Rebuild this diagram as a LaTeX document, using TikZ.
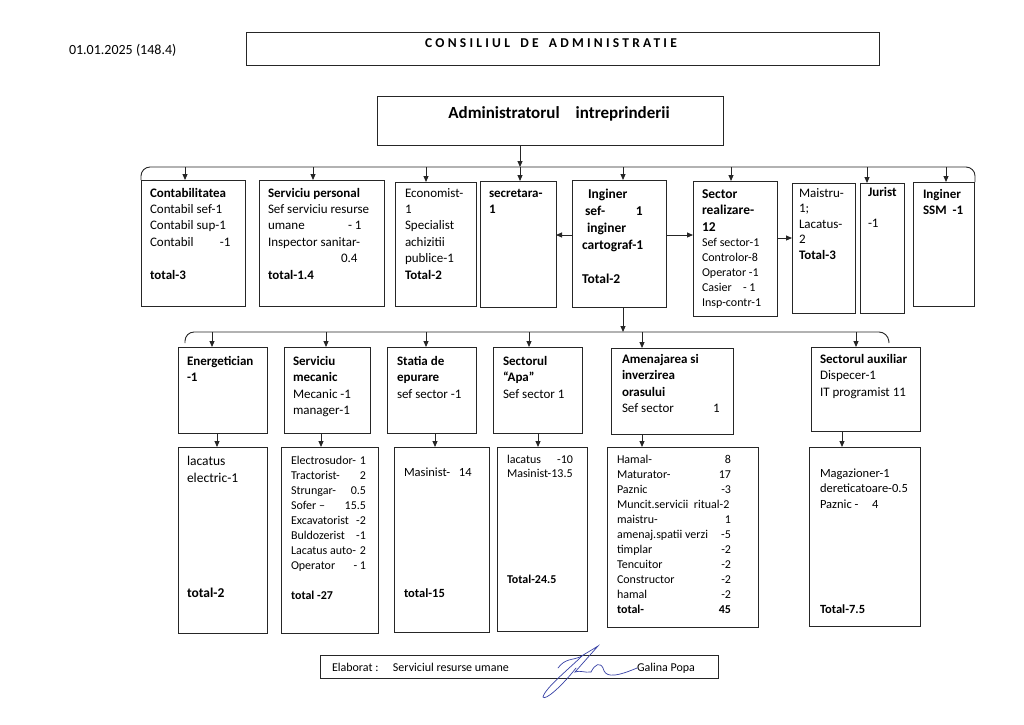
\documentclass[tikz,border=0pt]{standalone}
\usepackage{fontspec}
\setmainfont{Carlito}
\usetikzlibrary{arrows.meta}
\definecolor{sigblue}{RGB}{55,65,165}
\newcommand\fs[2]{\fontsize{#1}{#2}\selectfont}
\newcommand\rw[3]{\makebox[#1]{#2\hfill#3}}
\newcommand\bx[5]{\node[box, minimum width=\fpeval{#4-#2}pt, minimum height=\fpeval{#5-#3}pt] (#1) at (#2,#3) {};}
\newcommand\tb[3]{\node[txt] (#1) at (#2) {\parbox[t]{200pt}{\raggedright #3}};}
\tikzset{
  box/.style={draw=black!85, line width=0.9pt, anchor=north west, inner sep=0pt, outer sep=0pt},
  ln/.style={draw=black!85, line width=0.9pt},
  arr/.style={ln, -{Triangle[length=6pt,width=5pt]}},
  txt/.style={anchor=base west, inner sep=0pt, outer sep=0pt},
  sig/.style={draw=sigblue, line width=0.7pt, line cap=round}
}
\begin{document}
\begin{tikzpicture}[x=1pt,y=-1pt]
\useasboundingbox (0,0) rectangle (1024,724);
\fill[white] (0,0) rectangle (1024,724);

% header
\node[txt] (date) at (69,54) {\fs{14}{16}01.01.2025 (148.4)};
\bx{cons}{246}{32}{879}{65}
\node[anchor=base, inner sep=0pt] (constx) at (551,47) {\fs{13.5}{16}\bfseries\addfontfeatures{LetterSpace=24}CONSILIUL\hspace{4pt} DE\hspace{4pt} ADMINISTRATIE};
\bx{admin}{377}{96}{723}{145}
\node[anchor=base, inner sep=0pt] (admtx) at (559,118) {\fs{17}{20}\bfseries Administratorul\hspace{16pt}intreprinderii};

% row 1 boxes
\bx{contab}{141}{180}{245}{306}
\bx{pers}{259}{180}{384}{306}
\bx{econ}{395}{182}{476}{306}
\bx{secr}{480}{181}{556}{307}
\bx{ing}{572}{180}{666}{307}
\bx{sect}{693}{181}{777}{316}
\bx{maist}{792}{183}{855}{313}
\bx{jur}{860}{183}{904}{313}
\bx{ssm}{913}{182}{974}{306}

% row 2 boxes
\bx{energ}{178}{347}{267}{433}
\bx{mec}{284}{347}{370}{433}
\bx{stat}{387}{347}{476}{433}
\bx{apa}{493}{347}{582}{433}
\bx{amen}{611}{348}{733}{434}
\bx{aux}{811}{347}{920}{431}

% row 3 boxes
\bx{ra}{178}{447}{267}{633}
\bx{rb}{281}{447}{378}{633}
\bx{rc}{394}{447}{489}{632}
\bx{rd}{497}{447}{587}{631}
\bx{re}{607}{447}{758}{627}
\bx{rf}{809}{447}{920}{626}

% footer
\bx{foot}{320}{655}{718}{678}

% row 1 texts
\tb{tcontab}{150,197}{\fs{13}{16.4}\textbf{Contabilitatea}\\Contabil sef-1\\Contabil sup-1\\\makebox[70pt][l]{Contabil}-1\\[\baselineskip]\textbf{total-3}}
\tb{tpers}{268,197}{\fs{13}{16.4}\textbf{Serviciu personal}\\Sef serviciu resurse\\\makebox[80pt][l]{umane}- 1\\Inspector sanitar-\\\hspace*{73pt}0.4\\\textbf{total-1.4}}
\tb{tecon}{405,197}{\fs{13}{16.4}Economist-\\1\\Specialist\\achizitii\\publice-1\\\textbf{Total-2}}
\tb{tsecr}{489,197}{\fs{13}{16.4}\bfseries secretara-\\1}
\tb{ting}{582,198}{\fs{13.5}{17}\bfseries \hspace*{6pt}Inginer\\\hspace*{3pt}\makebox[51pt][l]{sef-}1\\\hspace*{5pt}inginer\\cartograf-1\\[\baselineskip]Total-2}
\tb{tsect}{702,198}{\fs{13.5}{16.7}\bfseries Sector\\realizare-\\12\par\fs{12}{15}\mdseries Sef sector-1\\Controlor-8\\Operator -1\\\makebox[41pt][l]{Casier}- 1\\Insp-contr-1}
\tb{tmaist}{799,197}{\fs{13}{15.5}Maistru-\\1;\\Lacatus-\\2\\\textbf{Total-3}}
\tb{tjur}{868,196}{\fs{13}{15.5}\textbf{Jurist}\\[\baselineskip]-1}
\tb{tssm}{923,198}{\fs{13}{16}\bfseries Inginer\\SSM\hspace{6pt}-1}

% row 2 texts
\tb{tenerg}{187,365}{\fs{13}{16.5}\bfseries Energetician\\-1}
\tb{tmec}{293,365}{\fs{13}{16.5}\textbf{Serviciu}\\\textbf{mecanic}\\Mecanic -1\\manager-1}
\tb{tstat}{397,365}{\fs{13}{16.5}\textbf{Statia de}\\\textbf{epurare}\\sef sector -1}
\tb{tapa}{503,365}{\fs{13}{16.5}\textbf{Sectorul}\\\textbf{“Apa”}\\Sef sector 1}
\tb{tamen}{622,363}{\fs{13}{16.5}\textbf{Amenajarea si}\\\textbf{inverzirea}\\\textbf{orasului}\\\makebox[91pt][l]{Sef sector}1}
\tb{taux}{820,363}{\fs{13}{16.8}\textbf{Sectorul auxiliar}\\Dispecer-1\\IT programist 11}

% row 3 texts
\tb{tra}{187,465}{\fs{13.5}{17}lacatus\\electric-1\\[98pt]\textbf{total-2}}
\tb{trb}{291,464}{\fs{12}{15}\rw{75pt}{Electrosudor-}{1}\\\rw{75pt}{Tractorist-}{2}\\\rw{75pt}{Strungar-}{0.5}\\\rw{75pt}{Sofer –}{15.5}\\\rw{75pt}{Excavatorist}{-2}\\\rw{75pt}{Buldozerist}{-1}\\\rw{75pt}{Lacatus auto-}{2}\\\rw{75pt}{Operator}{- 1}\\[\baselineskip]\textbf{total -27}}
\tb{trc}{404,476}{\fs{12.5}{15}\makebox[55pt][l]{Masinist-}14\\[106pt]\textbf{total-15}}
\tb{trd}{507,463}{\fs{12}{14.5}\rw{66pt}{lacatus}{-10}\\Masinist-13.5\\[91.5pt]\textbf{Total-24.5}}
\tb{tre}{617,463}{\fs{12}{15}\rw{114pt}{Hamal-}{8}\\\rw{114pt}{Maturator-}{17}\\\rw{114pt}{Paznic}{-3}\\Muncit.servicii\ \ ritual-2\\\rw{114pt}{maistru-}{1}\\\rw{114pt}{amenaj.spatii verzi}{-5}\\\rw{114pt}{timplar}{-2}\\\rw{114pt}{Tencuitor}{-2}\\\rw{114pt}{Constructor}{-2}\\\rw{114pt}{hamal}{-2}\\\textbf{\rw{114pt}{total-}{45}}}
\tb{trf}{820,477}{\fs{12.5}{15.5}Magazioner-1\\dereticatoare-0.5\\\makebox[52pt][l]{Paznic -}4\\[89.5pt]\textbf{Total-7.5}}

% footer texts
\node[txt] (elab) at (332,671) {\fs{12}{14}\makebox[61pt][l]{Elaborat :}Serviciul resurse umane};
\node[txt] (galina) at (637,671) {\fs{12}{14}Galina Popa};

% bus 1
\coordinate (L1b) at (141,180);
\coordinate (L1) at (141,167);
\coordinate (R1) at (975,167);
\coordinate (R1b) at (975,182);
\draw[ln, rounded corners=9pt] (L1b) -- (L1) -- (R1) -- (R1b);
\coordinate (A1) at (520,167);
\draw[arr] (A1 |- admin.south) -- (A1);
\foreach \xx/\nm in {185/contab, 313/pers, 426/econ, 520/secr, 623/ing, 731/sect, 867/jur, 946/ssm}{
  \coordinate (d\nm) at (\xx,167);
  \draw[arr] (d\nm) -- (d\nm |- \nm.north);
}
% horizontal arrows
\coordinate (H1) at (0,235);
\coordinate (H2) at (0,238);
\draw[arr] (ing.west |- H1) -- (secr.east |- H1);
\draw[arr] (ing.east |- H1) -- (sect.west |- H1);
\draw[arr] (sect.east |- H2) -- (maist.west |- H2);

% bus 2
\coordinate (L2b) at (185,343);
\coordinate (L2) at (185,332);
\coordinate (R2) at (888,332);
\coordinate (R2b) at (889,343);
\draw[ln, rounded corners=9pt] (L2b) -- (L2) -- (R2) -- (R2b);
\coordinate (I2) at (623,332);
\draw[arr] (I2 |- ing.south) -- (I2);
\foreach \xx/\nm in {212/energ, 326/mec, 426/stat, 529/apa, 642/amen, 856/aux}{
  \coordinate (e\nm) at (\xx,332);
  \draw[arr] (e\nm) -- (e\nm |- \nm.north);
}
% row 2 -> row 3
\foreach \xx/\a/\b in {217/energ/ra, 321/mec/rb, 435/stat/rc, 538/apa/rd, 642/amen/re, 842/aux/rf}{
  \coordinate (f\b) at (\xx,0);
  \draw[arr] (f\b |- \a.south) -- (f\b |- \b.north);
}

% signature
\draw[sig] (558,668) .. controls (565,658) and (574,660) .. (580,657) .. controls (588,652) and (595,648) .. (598,646) -- (575,672) .. controls (580,670) and (585,673) .. (591,672);
\draw[sig] (583,655) .. controls (570,668) and (545,688) .. (543,697) .. controls (545,701) and (562,686) .. (576,668);
\draw[sig] (591,672) .. controls (595,664) and (600,662) .. (603,668) .. controls (605,676) and (611,679) .. (637,668);
\end{tikzpicture}
\end{document}
